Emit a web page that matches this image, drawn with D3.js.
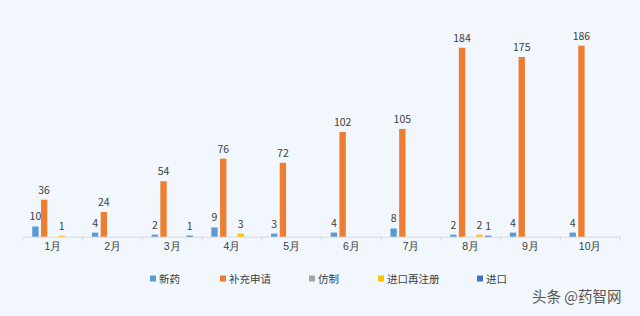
<!DOCTYPE html>
<html><head><meta charset="utf-8">
<script src="https://cdn.jsdelivr.net/npm/d3@7"></script>
<style>body{margin:0;background:#f1f7fd;}svg{display:block;font-family:"Noto Sans CJK SC","Noto Sans",sans-serif;}</style>
</head><body>
<script>
const months = ["1月","2月","3月","4月","5月","6月","7月","8月","9月","10月"];
const seriesNames = ["新药","补充申请","仿制","进口再注册","进口"];
const seriesColors = ["#5b9bd5","#ed7d31","#a5a5a5","#ffc000","#4472c4"];
const xinyao   = [10,4,2,9,3,4,8,2,4,4];
const buchong  = [36,24,54,76,72,102,105,184,175,186];
const fangzhi  = [0,0,0,0,0,0,0,0,0,0];
const jinkouZC = [1,0,0,3,0,0,0,2,0,0];
const jinkou   = [0,0,1,0,0,0,0,1,0,0];
const seriesValues = [xinyao,buchong,fangzhi,jinkouZC,jinkou];

const W=640,H=316;
const svg=d3.select("body").append("svg").attr("width",W).attr("height",H);
svg.append("rect").attr("width",W).attr("height",H).attr("fill","#f1f7fd");

const x=d3.scaleBand().domain(months).range([23,620]).padding(0);
const inner=d3.scaleBand().domain(d3.range(5)).range([x.bandwidth()/2-21.75, x.bandwidth()/2+21.75]).paddingInner(0.27).paddingOuter(0.13);
const y=d3.scaleLinear().domain([0,200]).range([236.7,31.3]);

// axis
const axisG=svg.append("g").attr("transform","translate(0,236.7)");
axisG.call(d3.axisBottom(x).tickSize(0).tickFormat(d=>d));
axisG.select(".domain").attr("stroke","#d9d9d9");
axisG.selectAll("text").attr("fill","#404040").attr("font-size",10.5).attr("dy","1.0em");
const bounds=months.map((m,i)=>x(m)).concat([620]);
axisG.selectAll(".bt").data(bounds).enter().append("line")
  .attr("x1",d=>d).attr("x2",d=>d).attr("y1",0).attr("y2",4).attr("stroke","#d9d9d9");

// bars
seriesValues.forEach((vals,s)=>{
  const g=svg.append("g");
  const pts=vals.map((v,i)=>({v,m:months[i]}));
  g.selectAll("rect").data(pts).enter().append("rect")
    .attr("x",d=>x(d.m)+inner(s))
    .attr("width",inner.bandwidth())
    .attr("y",d=>y(d.v))
    .attr("height",d=>y(0)-y(d.v))
    .attr("fill",seriesColors[s]);
  g.selectAll("text").data(pts.filter(d=>d.v>0)).enter().append("text")
    .attr("x",d=>x(d.m)+inner(s)+inner.bandwidth()/2)
    .attr("y",d=>y(d.v)-6)
    .attr("text-anchor","middle")
    .attr("font-size",10.5)
    .attr("fill","#404040")
    .text(d=>d.v);
});

// legend
const legX=[150,220,309,378,477];
seriesNames.forEach((n,i)=>{
  svg.append("rect").attr("x",legX[i]).attr("y",275.5).attr("width",6).attr("height",6).attr("fill",seriesColors[i]);
  svg.append("text").attr("x",legX[i]+9).attr("y",282.5).attr("font-size",10.5).attr("fill","#404040").text(n);
});

// watermark
svg.append("text").attr("x",532).attr("y",302).attr("font-size",14.5).attr("fill","#555").text("头条 @药智网");
</script>
</body></html>
